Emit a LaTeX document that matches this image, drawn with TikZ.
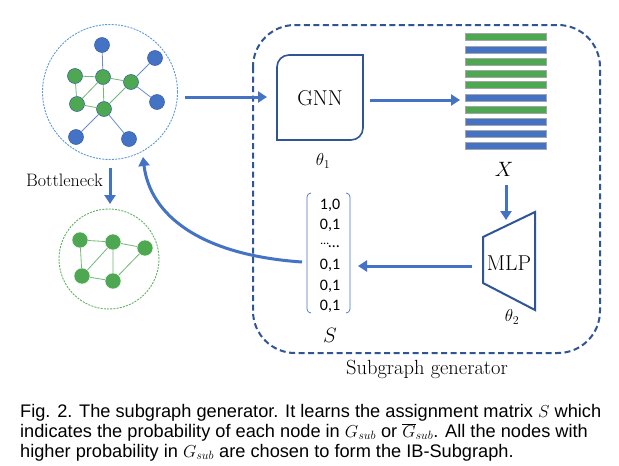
\documentclass[tikz,border=0pt]{standalone}
\usepackage{fontspec}
\usetikzlibrary{arrows.meta,shapes.geometric}
\newfontfamily\capfont{Liberation Sans}
\newfontfamily\calfont{Carlito}
\definecolor{arrblue}{HTML}{4472C4}
\definecolor{boxblue}{HTML}{2F5597}
\definecolor{nblue}{HTML}{4472C4}
\definecolor{ngreen}{HTML}{4EA852}
\definecolor{cblue}{HTML}{5B9BD5}
\definecolor{cgreen}{HTML}{5DB35F}
\tikzset{
  bignode/.style={circle,inner sep=0pt,minimum size=15pt,draw=nblue!80!black,line width=0.5pt},
  bluenode/.style={bignode,fill=nblue},
  greennode/.style={bignode,fill=ngreen},
  smallnode/.style={circle,inner sep=0pt,minimum size=16pt,fill=ngreen,draw=white,line width=0.4pt},
  gedge/.style={draw=ngreen!80!white,line width=0.8pt},
  bedge/.style={draw=nblue!80!white,line width=0.8pt},
  flow/.style={draw=arrblue,line width=3pt,-{Triangle[length=9pt,width=11pt]}},
  featbar/.style={minimum width=81pt,minimum height=7pt,inner sep=0pt,draw=gray!70,line width=0.4pt},
  gbar/.style={featbar,fill=ngreen},
  bbar/.style={featbar,fill=nblue},
  serifL/.style={font=\fontsize{21.5}{25}\selectfont},
  mat/.style={font=\calfont\fontsize{16}{20}\selectfont,inner sep=0pt},
  captext/.style={font=\capfont\fontsize{18.2}{20}\selectfont,anchor=north west,inner sep=0pt,align=left},
}
\begin{document}
\begin{tikzpicture}[x=1pt,y=-1pt]
\useasboundingbox (0,0) rectangle (619,466);
\fill[white] (0,0) rectangle (619,466);

% big graph
\node[circle,draw=cblue,dash pattern=on 2pt off 1.2pt,line width=0.9pt,minimum size=135pt,inner sep=0pt] (bigc) at (110,92) {};
\node[bluenode] (b1) at (102,45) {};
\node[bluenode] (b2) at (155,58) {};
\node[bluenode] (b3) at (157,102) {};
\node[bluenode] (b4) at (76,137) {};
\node[bluenode] (b5) at (129,139) {};
\node[greennode] (g1) at (75,76) {};
\node[greennode] (g2) at (103,77) {};
\node[greennode] (g3) at (131,82) {};
\node[greennode] (g4) at (77,104) {};
\node[greennode] (g5) at (104,109) {};
\draw[gedge] (g1)--(g2) (g1)--(g4) (g4)--(g2) (g2)--(g5) (g2)--(g3) (g3)--(g5) (g4)--(g5);
\draw[bedge] (b1)--(g2) (b2)--(g3) (b3)--(g3) (b4)--(g5) (b5)--(g5);

% small graph
\node[circle,draw=cgreen,dash pattern=on 2pt off 1.2pt,line width=0.9pt,minimum size=100pt,inner sep=0pt] (smc) at (109,259) {};
\node[smallnode] (s1) at (80,240) {};
\node[smallnode] (s2) at (113,242) {};
\node[smallnode] (s3) at (145,248) {};
\node[smallnode] (s4) at (82,276) {};
\node[smallnode] (s5) at (113,281) {};
\draw[gedge] (s1)--(s2) (s1)--(s4) (s4)--(s2) (s2)--(s5) (s2)--(s3) (s3)--(s5) (s4)--(s5);

% bottleneck
\coordinate (bt) at (110,168);
\coordinate (bb) at (110,204);
\draw[flow] (bt) -- (bb);
\node[font=\fontsize{18}{20}\selectfont,anchor=east,inner sep=0pt] (btl) at (103,180) {Bottleneck};

% generator box
\draw[boxblue,line width=2pt,dash pattern=on 6pt off 3.5pt,rounded corners=42pt] (253,25) rectangle (600,353);
\node[font=\fontsize{20.5}{24}\selectfont,inner sep=0pt] (gen) at (427,369) {Subgraph generator};

% GNN box
\draw[boxblue,line width=1.6pt] (277,67) arc[start angle=180,end angle=90,radius=12pt] -- (363,55) -- (363,128) arc[start angle=0,end angle=-90,radius=12pt] -- (277,140) -- cycle;
\node[serifL,inner sep=0pt] (gnn) at (320,98) {GNN};
\node[font=\fontsize{18}{20}\selectfont,inner sep=0pt] (th1) at (323,161) {$\theta_1$};

% bars
\foreach \y/\s [count=\i] in {37/gbar,50/bbar,62/gbar,74/gbar,85/gbar,98/bbar,110/gbar,122/bbar,134/bbar,146/bbar}{
  \node[\s] (bar\i) at (505.5,\y) {};
}
\node[font=\fontsize{22}{24}\selectfont,inner sep=0pt] (xl) at (504,169) {$X$};

% MLP
\draw[boxblue,line width=2pt] (483,237) -- (535,212) -- (535,310) -- (483,283) -- cycle;
\node[serifL,inner sep=0pt] (mlp) at (509,263) {MLP};
\node[font=\fontsize{18}{20}\selectfont,inner sep=0pt] (th2) at (512,317) {$\theta_2$};

% S matrix
\node[mat] (m1) at (330,205) {1,0};
\node[mat] (m2) at (330,225) {0,1};
\node[mat] (m3) at (330,245) {\raisebox{3pt}{\fontsize{12}{14}\selectfont\ldots}\kern-0.5pt\ldots};
\node[mat] (m4) at (330,265) {0,1};
\node[mat] (m5) at (330,286) {0,1};
\node[mat] (m6) at (330,306) {0,1};
\draw[arrblue,line width=0.7pt] (311,193) arc[start angle=90,end angle=180,radius=4pt] -- (307,309) arc[start angle=180,end angle=270,radius=4pt];
\draw[arrblue,line width=0.7pt] (346,193) arc[start angle=90,end angle=0,radius=4pt] -- (350,309) arc[start angle=0,end angle=-90,radius=4pt];
\node[font=\fontsize{22}{24}\selectfont,inner sep=0pt] (sl) at (330,335) {$S$};

% connectors
\coordinate (a1s) at (185,97);
\coordinate (a1e) at (267,97);
\draw[flow] (a1s) -- (a1e);
\coordinate (a2s) at (370,100);
\coordinate (a2e) at (460,100);
\draw[flow] (a2s) -- (a2e);
\coordinate (a3s) at (506,185);
\coordinate (a3e) at (506,220);
\draw[flow] (a3s) -- (a3e);
\coordinate (a4s) at (472,266);
\coordinate (a4e) at (358,266);
\draw[flow] (a4s) -- (a4e);
\coordinate (a5s) at (302,262);
\coordinate (a5e) at (143,157);
\draw[flow] (a5s) .. controls (200,255) and (150,215) .. (a5e);

% caption
\node[captext] (cap) at (20,404) {Fig. 2. The subgraph generator. It learns the assignment matrix $S$ which\\
indicates the probability of each node in $G_{sub}$ or $\overline{G}_{sub}$. All the nodes with\\
higher probability in $G_{sub}$ are chosen to form the IB-Subgraph.};
\end{tikzpicture}
\end{document}
